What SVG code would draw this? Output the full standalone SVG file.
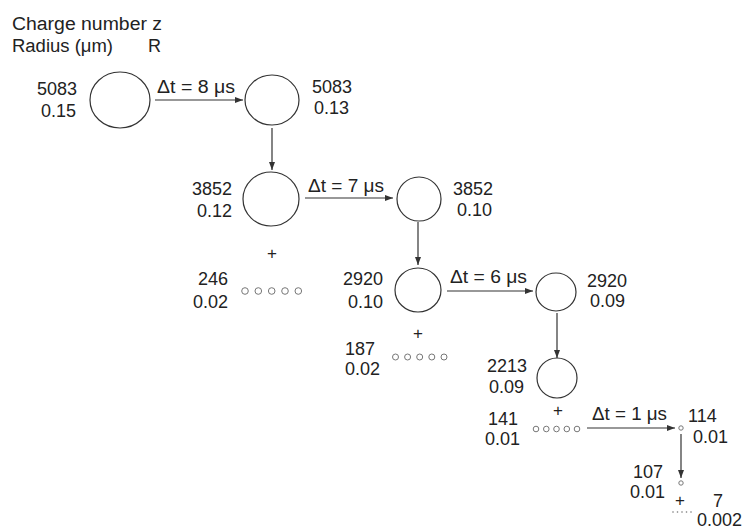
<svg xmlns="http://www.w3.org/2000/svg" width="746" height="529" viewBox="0 0 746 529">
<style>
text{font-family:"Liberation Sans",Arial,sans-serif;font-size:18px;fill:#222}
.e{text-anchor:end}
.p{font-size:17px;text-anchor:middle;fill:#222}
.big{fill:none;stroke:#333;stroke-width:1.2}
.sm{fill:none;stroke:#777;stroke-width:1}
.ln{stroke:#333;stroke-width:1.2;fill:none;marker-end:url(#ah)}
</style>
<defs>
<marker id="ah" markerWidth="8" markerHeight="6" refX="8" refY="3" orient="auto" markerUnits="userSpaceOnUse">
<path d="M0,0 L8,3 L0,6 Z" fill="#333"/>
</marker>
</defs>
<g id="legend">
<text x="12" y="30" textLength="150" lengthAdjust="spacingAndGlyphs">Charge number z</text>
<text x="12" y="52" textLength="101" lengthAdjust="spacingAndGlyphs">Radius (μm)</text>
<text x="148" y="52">R</text>
</g>
<g id="connectors">
<line class="ln" x1="155" y1="100" x2="243" y2="100"/>
<text x="157" y="93" textLength="78" lengthAdjust="spacingAndGlyphs">Δt = 8 μs</text>
<line class="ln" x1="272" y1="128" x2="272" y2="170"/>
<line class="ln" x1="305" y1="198" x2="393" y2="198"/>
<text x="308" y="192" textLength="76" lengthAdjust="spacingAndGlyphs">Δt = 7 μs</text>
<line class="ln" x1="418" y1="222" x2="418" y2="265"/>
<line class="ln" x1="447" y1="291" x2="533" y2="291"/>
<text x="450" y="283" textLength="77" lengthAdjust="spacingAndGlyphs">Δt = 6 μs</text>
<line class="ln" x1="557" y1="313" x2="557" y2="358"/>
<line class="ln" x1="587" y1="428" x2="675" y2="428"/>
<text x="592" y="420" textLength="75" lengthAdjust="spacingAndGlyphs">Δt = 1 μs</text>
<line class="ln" x1="681" y1="434" x2="681" y2="478"/>
</g>
<g id="n1">
<ellipse class="big" cx="120" cy="100" rx="30" ry="28"/>
<text class="e" x="77" y="95">5083</text>
<text class="e" x="76" y="117">0.15</text>
</g>
<g id="n2">
<ellipse class="big" cx="272" cy="100" rx="27" ry="25"/>
<text x="312" y="93">5083</text>
<text x="314" y="114">0.13</text>
</g>
<g id="n3">
<ellipse class="big" cx="271" cy="199" rx="28" ry="27"/>
<text class="e" x="232" y="195">3852</text>
<text class="e" x="232" y="217">0.12</text>
</g>
<g id="n4">
<ellipse class="big" cx="419" cy="199" rx="22" ry="22"/>
<text x="453" y="195">3852</text>
<text x="457" y="216">0.10</text>
</g>
<g id="f1">
<text class="p" x="272" y="259">+</text>
<text class="e" x="228" y="285">246</text>
<text class="e" x="228" y="308">0.02</text>
<circle class="sm" cx="245" cy="291" r="3.3"/>
<circle class="sm" cx="258.3" cy="291" r="3.3"/>
<circle class="sm" cx="271.7" cy="291" r="3.3"/>
<circle class="sm" cx="285" cy="291" r="3.3"/>
<circle class="sm" cx="298.3" cy="291" r="3.3"/>
</g>
<g id="n5">
<ellipse class="big" cx="418" cy="290" rx="23" ry="22"/>
<text class="e" x="383" y="285">2920</text>
<text class="e" x="383" y="308">0.10</text>
</g>
<g id="n6">
<ellipse class="big" cx="556" cy="292" rx="20" ry="19"/>
<text x="587" y="287">2920</text>
<text x="590" y="307">0.09</text>
</g>
<g id="f2">
<text class="p" x="418" y="339">+</text>
<text class="e" x="375" y="355">187</text>
<text class="e" x="380" y="375">0.02</text>
<circle class="sm" cx="395.5" cy="357" r="3"/>
<circle class="sm" cx="407.6" cy="357" r="3"/>
<circle class="sm" cx="419.7" cy="357" r="3"/>
<circle class="sm" cx="431.8" cy="357" r="3"/>
<circle class="sm" cx="444" cy="357" r="3"/>
</g>
<g id="n7">
<ellipse class="big" cx="557" cy="378" rx="20" ry="20"/>
<text class="e" x="527" y="372">2213</text>
<text class="e" x="524" y="393">0.09</text>
</g>
<g id="f3">
<text class="p" x="558" y="416">+</text>
<text class="e" x="518" y="425">141</text>
<text class="e" x="520" y="445">0.01</text>
<circle class="sm" cx="536" cy="429" r="2.8"/>
<circle class="sm" cx="546.3" cy="429" r="2.8"/>
<circle class="sm" cx="556.5" cy="429" r="2.8"/>
<circle class="sm" cx="566.8" cy="429" r="2.8"/>
<circle class="sm" cx="577" cy="429" r="2.8"/>
</g>
<g id="n8">
<circle class="sm" cx="681" cy="428" r="2.2"/>
<text x="688" y="422">114</text>
<text x="693" y="443">0.01</text>
</g>
<g id="n9">
<circle class="sm" cx="681" cy="483" r="2.2"/>
<text x="633" y="478">107</text>
<text x="630" y="498">0.01</text>
</g>
<g id="f4">
<text class="p" x="680" y="506">+</text>
<g fill="#777">
<circle cx="673" cy="512" r="0.8"/>
<circle cx="677.5" cy="512" r="0.8"/>
<circle cx="682" cy="512" r="0.8"/>
<circle cx="686.5" cy="512" r="0.8"/>
<circle cx="691" cy="512" r="0.8"/>
</g>
<text x="713" y="507">7</text>
<text x="697" y="526">0.002</text>
</g>
</svg>
